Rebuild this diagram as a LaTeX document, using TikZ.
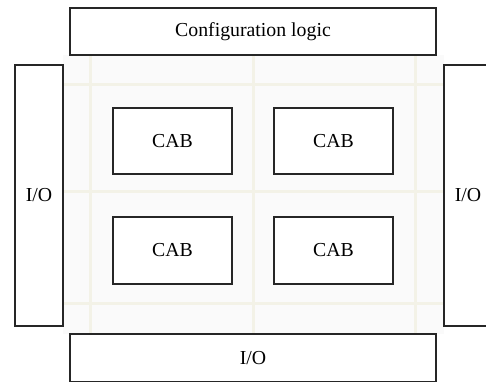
\documentclass[tikz,border=0pt]{standalone}
\usepackage{fontspec}
\setmainfont{Liberation Serif}
\begin{document}
\begin{tikzpicture}[x=1pt,y=1pt,
  blk/.style={draw=black!85,line width=1.05pt,fill=white,inner sep=0pt,font=\fontsize{19.8}{22}\selectfont},
  chan/.style={draw=yellow!30!gray!16,line width=3pt},
]
\useasboundingbox (0,0) rectangle (486,-381);
\clip (0,0) rectangle (486,-381);
% faint array background
\fill[gray!4] (63,-55) rectangle (444,-334);
\draw[chan] (63,-84) -- (444,-84);
\draw[chan] (63,-191) -- (444,-191);
\draw[chan] (63,-303) -- (444,-303);
\draw[chan] (90,-55) -- (90,-334);
\draw[chan] (253,-55) -- (253,-334);
\draw[chan] (415,-55) -- (415,-334);
% blocks
\node[blk,minimum width=366pt,minimum height=47pt] (cfg) at (253,-31.5) {Configuration logic};
\node[blk,minimum width=48pt,minimum height=261pt] (iol) at (39,-195.5) {I/O};
\node[blk,minimum width=48pt,minimum height=261pt] (ior) at (468,-195.5) {I/O};
\node[blk,minimum width=366pt,minimum height=48pt] (iob) at (253,-358) {I/O};
\node[blk,minimum width=119pt,minimum height=66pt] (cab1) at (172.5,-141) {CAB};
\node[blk,minimum width=119pt,minimum height=66pt] (cab2) at (333.5,-141) {CAB};
\node[blk,minimum width=119pt,minimum height=67pt] (cab3) at (172.5,-250.5) {CAB};
\node[blk,minimum width=119pt,minimum height=67pt] (cab4) at (333.5,-250.5) {CAB};
\end{tikzpicture}
\end{document}
